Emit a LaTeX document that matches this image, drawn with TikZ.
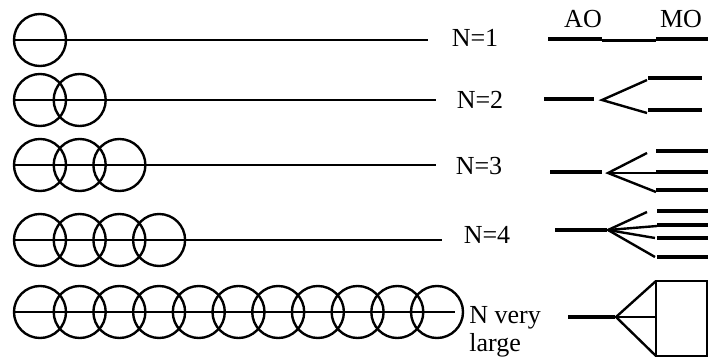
\documentclass[tikz,border=0pt]{standalone}
\usepackage{fontspec}
\setmainfont{Liberation Serif}
\tikzset{
  orbit/.style={line width=1.7pt},
  mlevel/.style={line width=3.1pt},
  split/.style={line width=1.7pt},
  lbl/.style={font=\fontsize{18.5}{22}\selectfont, inner sep=0pt},
}
\begin{document}
\begin{tikzpicture}[x=0.025cm,y=-0.025cm]
      \useasboundingbox (0,0) rectangle (708,360);
      % rows of atoms
      \foreach \n/\y in {1/40,2/100,3/165,4/240,11/312}
        \foreach \i in {1,...,\n}
          \draw[orbit] ({40+39.7*(\i-1)},\y) circle (0.65cm);
      \begin{scope}[orbit]
        \draw (13,40) -- (428,40);
        \draw (13,100) -- (436,100);
        \draw (13,165) -- (436,165);
        \draw (13,240) -- (442,240);
        \draw (13,312) -- (455,312);
      \end{scope}
      \node[lbl] (n1) at (475,38) {N=1};
      \node[lbl] (n2) at (480,100) {N=2};
      \node[lbl] (n3) at (479,166) {N=3};
      \node[lbl] (n4) at (487,235) {N=4};
      \node[lbl,anchor=base west] (nvery) at (469,323) {N very};
      \node[lbl,anchor=base west] (nlarge) at (469,351) {large};
      \node[lbl,anchor=base] (ao) at (583,28) {AO};
      \node[lbl,anchor=base] (mo) at (681,28) {MO};
      % splitting points
      \coordinate (s2) at (602,100);
      \coordinate (s3) at (608,173);
      \coordinate (s4) at (608,230);
      \coordinate (s5) at (616,317);
      % N=1
      \draw[mlevel] (548,39) -- (602,39);
      \draw[split] (602,40.5) -- (656,40.5);
      \draw[mlevel] (656,39) -- (708,39);
      % N=2
      \draw[mlevel] (544,99) -- (594,99);
      \draw[split] (647,80) -- (s2) -- (647,113);
      \draw[mlevel] (648,78) -- (702,78);
      \draw[mlevel] (648,110) -- (702,110);
      % N=3
      \draw[mlevel] (550,172) -- (602,172);
      \draw[split] (647,153) -- (s3) -- (656,192);
      \draw[split] (s3) -- (656,173);
      \draw[mlevel] (656,151) -- (708,151);
      \draw[mlevel] (656,172) -- (708,172);
      \draw[mlevel] (656,190) -- (708,190);
      % N=4
      \draw[mlevel] (555,230) -- (607,230);
      \draw[split] (647,212) -- (s4) -- (655,257);
      \draw[split] (s4) -- (657,226);
      \draw[split] (s4) -- (655,238);
      \draw[mlevel] (657,211) -- (708,211);
      \draw[mlevel] (657,225) -- (708,225);
      \draw[mlevel] (657,238) -- (708,238);
      \draw[mlevel] (657,257) -- (708,257);
      % N very large
      \draw[mlevel] (568,317) -- (615,317);
      \draw[split] (656,281) -- (s5) -- (656,356);
      \draw[split] (s5) -- (656,317);
      \draw[split] (656,281) rectangle (707,356);
\end{tikzpicture}
\end{document}
